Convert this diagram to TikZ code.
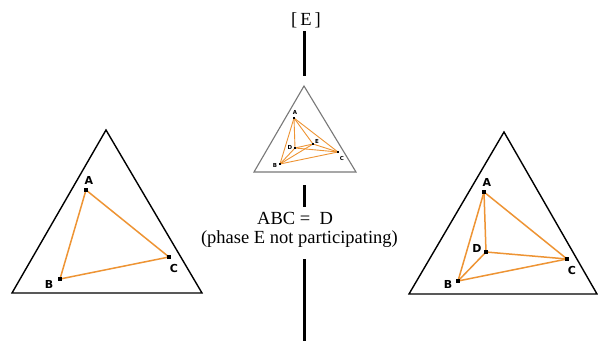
\documentclass[tikz,border=0pt]{standalone}
\usepackage{fontspec}
\setmainfont{Liberation Serif}
\newfontfamily\lblfont{DejaVu Sans}
\definecolor{phaseorange}{RGB}{238,148,52}
\definecolor{midgray}{RGB}{120,120,120}
\begin{document}
\begin{tikzpicture}[x=1pt,y=-1pt,
  outer/.style={draw=black, line width=1.4pt, line join=miter},
  inner/.style={draw=midgray, line width=1.1pt, line join=miter},
  tie/.style={draw=phaseorange, line width=1.5pt},
  tiesmall/.style={draw=phaseorange, line width=0.9pt},
  pt/.style={fill=black, rectangle, minimum size=4.5pt, inner sep=0pt},
  ptsmall/.style={fill=black, rectangle, minimum size=2.8pt, inner sep=0pt},
  lbl/.style={font=\lblfont\bfseries\fontsize{11}{12}\selectfont, inner sep=0pt},
  lblsmall/.style={font=\lblfont\bfseries\fontsize{5.5}{6}\selectfont, inner sep=0pt},
  axis/.style={draw=black, line width=3pt},
  txt/.style={font=\fontsize{18.5}{21}\selectfont, inner sep=0pt}]
\useasboundingbox (0,0) rectangle (598,341);
\fill[white] (0,0) rectangle (598,341);

% vertical axis
\coordinate (v1) at (304,31);
\coordinate (v2) at (304,76);
\coordinate (v3) at (304,185);
\coordinate (v4) at (304,207);
\coordinate (v5) at (304,259);
\coordinate (v6) at (304,341);
\draw[axis] (v1) -- (v2);
\draw[axis] (v3) -- (v4);
\draw[axis] (v5) -- (v6);

\node[txt] (etitle) at (306,20) {[\,E\,]};
\node[txt, anchor=base west] (eq) at (257,224) {ABC =\ \ D};
\node[txt, anchor=base east] (note) at (398,243) {(phase E not participating)};

% left triangle
\coordinate (L1) at (106,130);
\coordinate (L2) at (12,293);
\coordinate (L3) at (202,293);
\draw[outer] (L1) -- (L2) -- (L3) -- cycle;
\coordinate (lA) at (86,190);
\coordinate (lB) at (60,279);
\coordinate (lC) at (169,257);
\draw[tie] (lA) -- (lB) -- (lC) -- cycle;
\node[pt] (lAp) at (lA) {};
\node[pt] (lBp) at (lB) {};
\node[pt] (lCp) at (lC) {};
\node[lbl] (lAl) at (89,180) {A};
\node[lbl] (lBl) at (49,284) {B};
\node[lbl] (lCl) at (174,268) {C};

% right triangle
\coordinate (R1) at (504,132);
\coordinate (R2) at (409,294);
\coordinate (R3) at (597,294);
\draw[outer] (R1) -- (R2) -- (R3) -- cycle;
\coordinate (rA) at (484,192);
\coordinate (rD) at (486,252);
\coordinate (rC) at (567,259);
\coordinate (rB) at (458,281);
\draw[tie] (rA) -- (rB) -- (rC) -- cycle;
\draw[tie] (rA) -- (rD);
\draw[tie] (rB) -- (rD);
\draw[tie] (rC) -- (rD);
\node[pt] (rAp) at (rA) {};
\node[pt] (rBp) at (rB) {};
\node[pt] (rCp) at (rC) {};
\node[pt] (rDp) at (rD) {};
\node[lbl] (rAl) at (487,182) {A};
\node[lbl] (rDl) at (477,248) {D};
\node[lbl] (rCl) at (572,270) {C};
\node[lbl] (rBl) at (448,284) {B};

% middle triangle
\coordinate (M1) at (304,86);
\coordinate (M2) at (254,172);
\coordinate (M3) at (356,172);
\draw[inner] (M1) -- (M2) -- (M3) -- cycle;
\coordinate (mA) at (294,118);
\coordinate (mD) at (295,148);
\coordinate (mE) at (313,144);
\coordinate (mC) at (338,152);
\coordinate (mB) at (280,164);
\foreach \p/\q in {mA/mB,mA/mC,mA/mD,mA/mE,mB/mC,mB/mD,mB/mE,mC/mD,mC/mE,mD/mE}
  \draw[tiesmall] (\p) -- (\q);
\node[ptsmall] (mAp) at (mA) {};
\node[ptsmall] (mBp) at (mB) {};
\node[ptsmall] (mCp) at (mC) {};
\node[ptsmall] (mDp) at (mD) {};
\node[ptsmall] (mEp) at (mE) {};
\node[lblsmall] (mAl) at (295,112) {A};
\node[lblsmall] (mDl) at (290,147) {D};
\node[lblsmall] (mEl) at (317,141) {E};
\node[lblsmall] (mCl) at (342,158) {C};
\node[lblsmall] (mBl) at (275,165) {B};
\end{tikzpicture}
\end{document}
